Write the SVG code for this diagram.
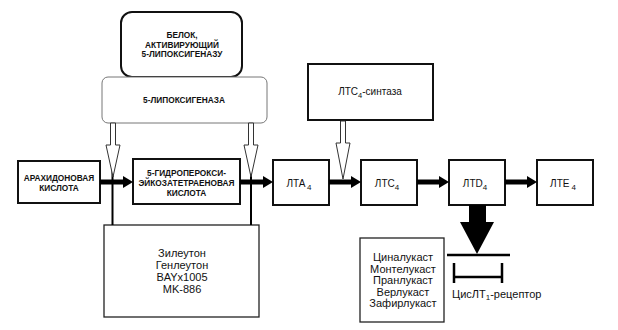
<svg xmlns="http://www.w3.org/2000/svg" width="618" height="330" viewBox="0 0 618 330">
<style>
.box{fill:#fff;stroke:#111;stroke-width:2}
.cap{font-family:"Liberation Sans",Arial,sans-serif;font-weight:bold;font-size:8.3px;fill:#111;text-anchor:middle}
.lbl{font-family:"Liberation Sans",Arial,sans-serif;font-size:10px;fill:#111;text-anchor:middle}
.drug{font-family:"Liberation Sans",Arial,sans-serif;font-size:11px;fill:#111;text-anchor:middle}
.rec{font-family:"Liberation Sans",Arial,sans-serif;font-size:11px;fill:#111;text-anchor:start}
.hollow{fill:#fff;stroke:#333;stroke-width:1}
.thick{stroke:#000;stroke-width:5;fill:none;marker-end:url(#ah)}
.thin{stroke:#000;stroke-width:2;fill:none}
</style>
<defs>
<marker id="ah" viewBox="0 0 10 12" refX="2" refY="6" markerWidth="10" markerHeight="12" markerUnits="userSpaceOnUse" orient="auto">
<path d="M0,0 L10,6 L0,12 z" fill="#000"/>
</marker>
</defs>
<rect width="618" height="330" fill="#fff"/>

<g id="activating-protein">
<rect x="121" y="12" width="121" height="65" rx="11" class="box" stroke-width="2.2"/>
<text class="cap" x="182" y="38">БЕЛОК,</text>
<text class="cap" x="182" y="47.5">АКТИВИРУЮЩИЙ</text>
<text class="cap" x="182" y="57">5-ЛИПОКСИГЕНАЗУ</text>
</g>

<g id="lipoxygenase">
<rect x="102" y="77" width="165" height="46" rx="6" fill="#fff" stroke="#777" stroke-width="1"/>
<text class="cap" x="184" y="103">5-ЛИПОКСИГЕНАЗА</text>
</g>

<g id="ltc4-synthase">
<rect x="308" y="64" width="125" height="56" class="box"/>
<text class="lbl" x="370" y="95">ЛТС<tspan font-size="7.5" dy="3">4</tspan><tspan dy="-3">-синтаза</tspan></text>
</g>

<g id="arachidonic">
<rect x="18" y="161" width="82" height="42" class="box"/>
<text class="cap" x="59" y="181">АРАХИДОНОВАЯ</text>
<text class="cap" x="59" y="190.5">КИСЛОТА</text>
</g>

<g id="hpete">
<rect x="133" y="159" width="107" height="45" class="box"/>
<text class="cap" x="186.5" y="176">5-ГИДРОПЕРОКСИ-</text>
<text class="cap" x="186.5" y="186">ЭЙКОЗАТЕТРАЕНОВАЯ</text>
<text class="cap" x="186.5" y="195.5">КИСЛОТА</text>
</g>

<g id="lta4">
<rect x="273" y="160" width="56" height="45" class="box"/>
<text class="lbl" x="299" y="187">ЛТА<tspan font-size="8" dx="1.5" dy="3">4</tspan></text>
</g>

<g id="ltc4">
<rect x="361" y="160" width="56" height="45" class="box"/>
<text class="lbl" x="387" y="187">ЛТС<tspan font-size="8" dy="3">4</tspan></text>
</g>

<g id="ltd4">
<rect x="449" y="160" width="56" height="45" class="box"/>
<text class="lbl" x="475" y="187">ЛТD<tspan font-size="8" dy="3">4</tspan></text>
</g>

<g id="lte4">
<rect x="537" y="160" width="56" height="45" class="box"/>
<text class="lbl" x="563" y="187">ЛТЕ<tspan font-size="8" dx="2" dy="3">4</tspan></text>
</g>

<g id="flap-inhibitors">
<rect x="104" y="225" width="155" height="92" fill="#fff" stroke="#222" stroke-width="1.3"/>
<text class="drug" x="182" y="257">Зилеутон</text>
<text class="drug" x="182" y="269">Генлеутон</text>
<text class="drug" x="182" y="281">BAYx1005</text>
<text class="drug" x="182" y="293">MK-886</text>
</g>

<g id="receptor-antagonists">
<rect x="360" y="238" width="84" height="84" fill="#fff" stroke="#222" stroke-width="1.3"/>
<text class="drug" x="403" y="261">Циналукаст</text>
<text class="drug" x="403" y="272.5">Монтелукаст</text>
<text class="drug" x="403" y="284">Пранлукаст</text>
<text class="drug" x="403" y="295.5">Верлукаст</text>
<text class="drug" x="403" y="307">Зафирлукаст</text>
</g>

<g id="receptor">
<line x1="447" y1="255" x2="510" y2="255" stroke="#000" stroke-width="2.5"/>
<path d="M454,263 V283 M502,263 V283 M454,277 H502" stroke="#000" stroke-width="2.5" fill="none"/>
<text class="rec" x="452" y="298">ЦисЛТ<tspan font-size="8" dy="2">1</tspan><tspan dy="-2">-рецептор</tspan></text>
</g>

<g id="connectors">
<line class="thin" x1="112.5" y1="168" x2="112.5" y2="225"/>
<line class="thin" x1="251" y1="168" x2="251" y2="225"/>
<line class="thick" x1="100" y1="182" x2="125" y2="182"/>
<line class="thick" x1="240" y1="182" x2="265" y2="182"/>
<line class="thick" x1="329" y1="182" x2="353" y2="182"/>
<line class="thick" x1="417" y1="182" x2="441" y2="182"/>
<line class="thick" x1="505" y1="182" x2="529" y2="182"/>
<polygon class="hollow" points="110.5,123 115.5,123 115.5,145 120,145 113,177 106,145 110.5,145"/>
<polygon class="hollow" points="248.5,123 253.5,123 253.5,145 258,145 251,177 244,145 248.5,145"/>
<polygon class="hollow" points="340.5,121 345.5,121 345.5,143 350,143 343,179 336,143 340.5,143"/>
<polygon points="469,205 486,205 486,222 494,222 477,254 460,222 469,222" fill="#000"/>
</g>
</svg>
